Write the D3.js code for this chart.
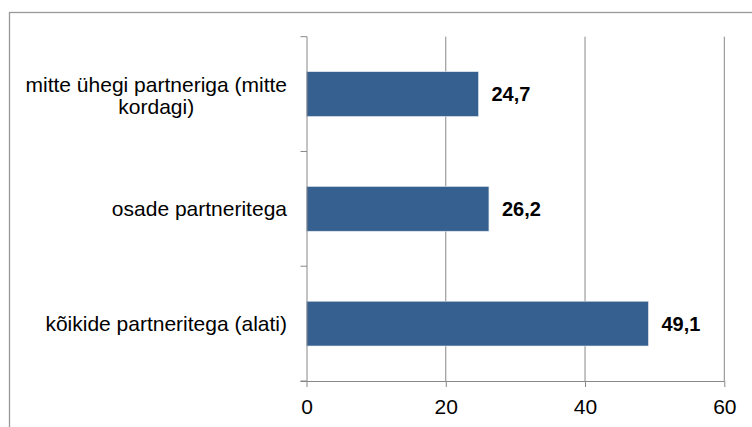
<!DOCTYPE html>
<html>
<head>
<meta charset="utf-8">
<script src="https://cdn.jsdelivr.net/npm/d3@7"></script>
<style>
  body { margin: 0; background: #fff; }
  svg { display: block; font-family: "Liberation Sans", Arial, sans-serif; }
</style>
</head>
<body>
<div id="chart"></div>
<script>
// Data
const categories = [
  ['mitte ühegi partneriga (mitte', 'kordagi)'],
  ['osade partneritega'],
  ['kõikide partneritega (alati)']
];
const values = [24.7, 26.2, 49.1];
const xTicks = [0, 20, 40, 60];

const width = 752, height = 427;
const margin = { top: 36.7, right: 27.7, bottom: 46, left: 306.5 };
const innerW = width - margin.left - margin.right;
const innerH = height - margin.top - margin.bottom;

const svg = d3.select('#chart').append('svg')
  .attr('width', width)
  .attr('height', height);

// outer frame (runs off the right and bottom edges)
svg.append('rect')
  .attr('x', 9.5).attr('y', 12.5)
  .attr('width', 800).attr('height', 500)
  .attr('fill', 'none')
  .attr('stroke', '#999')
  .attr('stroke-width', 1.3);

const g = svg.append('g')
  .attr('transform', `translate(${margin.left},${margin.top})`);

const x = d3.scaleLinear().domain([0, 60]).range([0, innerW]);
const y = d3.scaleBand()
  .domain(d3.range(categories.length))
  .range([0, innerH])
  .paddingInner(0.61)
  .paddingOuter(0.305);

// vertical gridlines
g.selectAll('.grid')
  .data(xTicks.slice(1))
  .enter().append('line')
  .attr('x1', d => x(d)).attr('x2', d => x(d))
  .attr('y1', 0).attr('y2', innerH)
  .attr('stroke', '#888')
  .attr('stroke-width', 1);

// bars
g.selectAll('.bar')
  .data(values)
  .enter().append('rect')
  .attr('x', x(0))
  .attr('y', (d, i) => y(i))
  .attr('width', d => x(d) - x(0))
  .attr('height', y.bandwidth())
  .attr('fill', '#36608f')
  .attr('stroke', '#dfe6ef')
  .attr('stroke-width', 0.6);

// value labels
g.selectAll('.val')
  .data(values)
  .enter().append('text')
  .attr('x', d => x(d) + 13)
  .attr('y', (d, i) => y(i) + y.bandwidth() / 2)
  .attr('dy', '0.36em')
  .attr('font-size', 20)
  .attr('font-weight', 'bold')
  .attr('fill', '#000')
  .text(d => d.toFixed(1).replace('.', ','));

// x axis
const xAxis = g.append('g')
  .attr('transform', `translate(0,${innerH})`)
  .call(d3.axisBottom(x).tickValues(xTicks).tickSize(6).tickPadding(12));
xAxis.select('.domain').attr('stroke', '#888').attr('d', `M-6,0.5H${innerW}`);
xAxis.selectAll('line').attr('stroke', '#888');
xAxis.selectAll('text').attr('font-size', 21).attr('fill', '#000')
  .attr('font-family', '"Liberation Sans", Arial, sans-serif');

// y axis (category boundary ticks)
const boundaries = d3.range(categories.length + 1).map(i => i * y.step());
g.append('line')
  .attr('x1', 0.5).attr('x2', 0.5)
  .attr('y1', 0).attr('y2', innerH)
  .attr('stroke', '#888');
g.selectAll('.ytick')
  .data(boundaries)
  .enter().append('line')
  .attr('x1', -6).attr('x2', 0.5)
  .attr('y1', d => d).attr('y2', d => d)
  .attr('stroke', '#888');

// category labels: block right-aligned next to the axis, lines centred in it
const labelRight = -19.5;
const lineH = 22;
const lab = g.selectAll('.cat')
  .data(categories)
  .enter().append('text')
  .attr('text-anchor', 'middle')
  .attr('font-size', 21)
  .attr('fill', '#000');
lab.selectAll('tspan')
  .data(d => d.map((t, k) => ({ t, k, n: d.length })))
  .enter().append('tspan')
  .attr('y', d => (d.k - (d.n - 1) / 2) * lineH + (d.n > 1 ? 2 : 0))
  .attr('dy', '0.35em')
  .text(d => d.t);
lab.each(function (d, i) {
  const t = d3.select(this);
  const w = d3.max(t.selectAll('tspan').nodes(), n => n.getComputedTextLength());
  t.selectAll('tspan').attr('x', 0);
  t.attr('transform', `translate(${labelRight - w / 2},${y(i) + y.bandwidth() / 2})`);
});
</script>
</body>
</html>
